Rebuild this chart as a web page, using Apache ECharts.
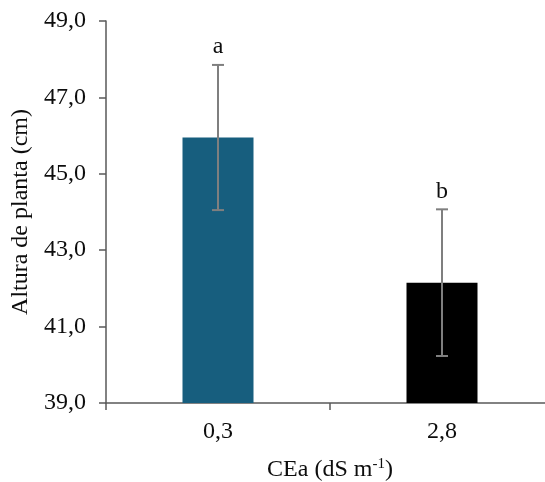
<!DOCTYPE html>
<html><head><meta charset="utf-8">
<script src="https://cdn.jsdelivr.net/npm/echarts@6/dist/echarts.min.js"></script>
<style>html,body{margin:0;padding:0;background:#fff}#c{width:545px;height:482px}</style>
</head><body><div id="c"></div>
<script>
var categories = ['0,3', '2,8'];
var means = [45.95, 42.15];
var errors = [1.9, 1.92];
var letters = ['a', 'b'];
var yTicks = [39, 41, 43, 45, 47, 49];

var FONT = '"Liberation Serif", "Times New Roman", serif';
var FS = 24;
var TXT = '#0d0d0d';
var chart = echarts.init(document.getElementById('c'));
var barColors = ['#175e7e', '#000000'];

chart.setOption({
  animation: false,
  grid: {left: 106, top: 21, width: 448, height: 382, outerBoundsMode: 'none', containLabel: false},
  xAxis: {
    type: 'category', data: categories,
    axisLine: {lineStyle: {color: '#595959', width: 1.5}},
    axisTick: {show: true, length: 7, lineStyle: {color: '#595959', width: 1.5}},
    axisLabel: {color: TXT, fontFamily: FONT, fontSize: FS, margin: 17},
    name: 'CEa (dS m{sup|-1}{n|)}',
    nameLocation: 'middle', nameGap: 54,
    nameTextStyle: {color: TXT, fontFamily: FONT, fontSize: FS,
      rich: {
        sup: {fontFamily: FONT, fontSize: 15, color: TXT, verticalAlign: 'top', padding: [0, 0, 10, 0]},
        n: {fontFamily: FONT, fontSize: FS, color: TXT}
      }}
  },
  yAxis: {
    type: 'value', min: 39, max: 49, interval: 2,
    axisLine: {show: true, lineStyle: {color: '#595959', width: 1.5}},
    axisTick: {show: true, length: 7, lineStyle: {color: '#595959', width: 1.5}},
    splitLine: {show: false},
    axisLabel: {color: TXT, fontFamily: FONT, fontSize: FS, margin: 20,
      formatter: function (v) { return yTicks.indexOf(v) >= 0 ? v.toFixed(1).replace('.', ',') : ''; }},
    name: 'Altura de planta (cm)', nameLocation: 'middle', nameGap: 62,
    nameTextStyle: {color: TXT, fontFamily: FONT, fontSize: FS}
  },
  series: [{
    type: 'bar', barWidth: 71,
    data: means.map(function (v, i) { return {value: v, itemStyle: {color: barColors[i]}}; })
  }, {
    type: 'custom',
    data: means.map(function (v, i) { return [i, v - errors[i], v + errors[i], letters[i]]; }),
    renderItem: function (params, api) {
      var lo = api.coord([api.value(0), api.value(1)]);
      var hi = api.coord([api.value(0), api.value(2)]);
      var x = lo[0], hw = 6;
      var st = {stroke: '#7f7f7f', lineWidth: 2};
      return {type: 'group', children: [
        {type: 'line', shape: {x1: x, y1: lo[1], x2: x, y2: hi[1]}, style: st},
        {type: 'line', shape: {x1: x - hw, y1: lo[1], x2: x + hw, y2: lo[1]}, style: st},
        {type: 'line', shape: {x1: x - hw, y1: hi[1], x2: x + hw, y2: hi[1]}, style: st},
        {type: 'text', style: {text: letters[params.dataIndex], x: x, y: hi[1] - 6,
          textAlign: 'center', textVerticalAlign: 'bottom', fontFamily: FONT, fontSize: FS, fill: TXT}}
      ]};
    },
    z: 5
  }]
});
</script></body></html>
